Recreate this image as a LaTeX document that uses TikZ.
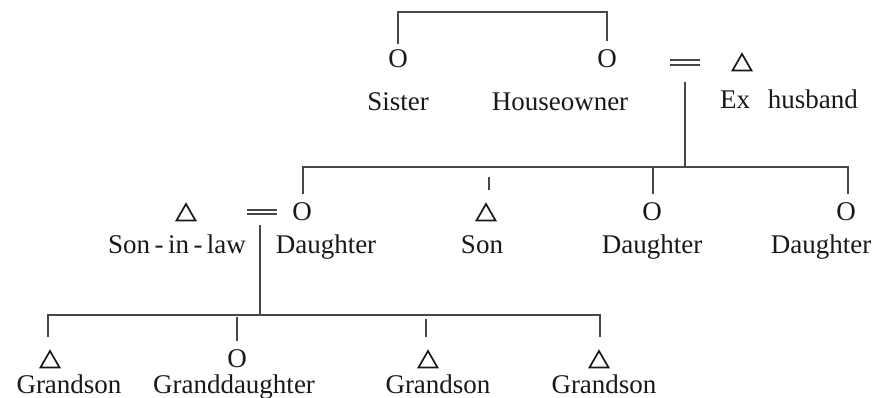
\documentclass[tikz,border=0pt]{standalone}
\usepackage{fontspec}
\setmainfont{Liberation Serif}
\usetikzlibrary{shapes.geometric}

\tikzset{
  kin/.style={line width=1.2pt, draw=black!72},
  male/.style={regular polygon, regular polygon sides=3, draw=black!90, line width=1.7pt,
               minimum size=22pt, inner sep=0pt},
  female/.style={font=\fontsize{27}{27}\selectfont, inner sep=0pt, text=black!90, anchor=base},
  who/.style={font=\fontsize{27}{27}\selectfont, inner sep=0pt, text=black!90, anchor=base},
  wed/.style={line width=1.2pt, draw=black!72},
}

\begin{document}
\begin{tikzpicture}[x=1pt, y=-1pt]
  \useasboundingbox (0,0) rectangle (879,398);

  % ---- first generation ----
  \node[female] (sis) at (398,68) {O};
  \node[female] (own) at (607,68) {O};
  \node[male]   (exh) at (742,65) {};
  \node[who] (lsis) at (398,111) {Sister};
  \node[who] (lown) at (560,111) {Houseowner};
  \node[who] (lexh) at (789,109) {Ex\hspace{18pt}husband};

  \coordinate (top) at (500,12);
  \draw[kin] ([yshift=6pt]sis.north) -- (sis.north |- top) -| ([yshift=9pt]own.north);

  % marriage sign between houseowner and ex husband
  \coordinate (eqA) at (685,60);
  \draw[wed] ([xshift=-15pt]eqA) -- ([xshift=15pt]eqA)
             ([xshift=-15pt,yshift=-5pt]eqA) -- ([xshift=15pt,yshift=-5pt]eqA);
  \coordinate (eqAdown) at (685,82);

  % ---- second generation ----
  \node[male]   (sil) at (186,215) {};
  \node[female] (d1)  at (302,221) {O};
  \node[male]   (son) at (486,215) {};
  \node[female] (d2)  at (652,221) {O};
  \node[female] (d3)  at (846,221) {O};

  \node[who] (lsil) at (177,254) {Son\,-\,in\,-\,law};
  \node[who] (ld1)  at (326,254) {Daughter};
  \node[who] (lson) at (482,254) {Son};
  \node[who] (ld2)  at (652,254) {Daughter};
  \node[who] (ld3)  at (821,254) {Daughter};

  \coordinate (bar2) at (500,167);
  \draw[kin] (eqAdown) -- (eqAdown |- bar2);
  \draw[kin] ([xshift=1pt,yshift=9pt]d1.north) -- ([xshift=1pt]d1.north |- bar2)
             -| ([xshift=2pt,yshift=9pt]d3.north);
  \draw[kin] ([xshift=3pt,yshift=12pt]son.north) -- ++(0,-13);
  \draw[kin] ([xshift=1pt,yshift=9pt]d2.north) -- ([xshift=1pt]d2.north |- bar2);

  % marriage sign between son-in-law and daughter
  \coordinate (eqB) at (262,210);
  \draw[wed] ([xshift=-15pt]eqB) -- ([xshift=15pt]eqB)
             ([xshift=-15pt,yshift=-4pt]eqB) -- ([xshift=15pt,yshift=-4pt]eqB);
  \coordinate (eqBdown) at (260,225);

  % ---- third generation ----
  \node[male]   (g1) at (50,362) {};
  \node[female] (g2) at (237,367) {O};
  \node[male]   (g3) at (428,362) {};
  \node[male]   (g4) at (599,362) {};

  \node[who] (lg1) at (69,393) {Grandson};
  \node[who] (lg2) at (234,393) {Granddaughter};
  \node[who] (lg3) at (438,393) {Grandson};
  \node[who] (lg4) at (604,393) {Grandson};

  \coordinate (bar3) at (300,315);
  \draw[kin] (eqBdown) -- (eqBdown |- bar3);
  \draw[kin] ([xshift=-2pt,yshift=12pt]g1.north) -- ([xshift=-2pt]g1.north |- bar3)
             -| ([xshift=1pt,yshift=12pt]g4.north);
  \draw[kin] ([yshift=8pt]g2.north) -- ([yshift=-2pt]g2.north |- bar3);
  \draw[kin] ([xshift=-2pt,yshift=12pt]g3.north) -- ([xshift=-2pt,yshift=-4pt]g3.north |- bar3);
\end{tikzpicture}
\end{document}
